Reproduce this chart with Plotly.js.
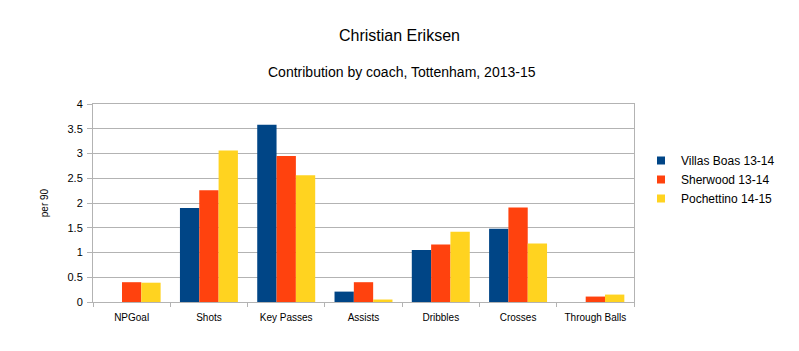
<!DOCTYPE html>
<html>
<head>
<meta charset="utf-8">
<script src="https://cdn.plot.ly/plotly-3.0.1.min.js"></script>
<style>html,body{margin:0;padding:0;background:#fff}#chart{width:799px;height:351px}</style>
</head>
<body>
<div id="chart"></div>
<script>
const categories = ["NPGoal", "Shots", "Key Passes", "Assists", "Dribbles", "Crosses", "Through Balls"];
const seriesNames = ["Villas Boas 13-14", "Sherwood 13-14", "Pochettino 14-15"];
const villasBoas = [0, 1.90, 3.58, 0.21, 1.05, 1.48, 0];
const sherwood = [0.40, 2.26, 2.95, 0.40, 1.16, 1.91, 0.11];
const pochettino = [0.39, 3.06, 2.56, 0.05, 1.42, 1.18, 0.15];
const colors = ["#004586", "#ff420e", "#ffd320"];
const yTickVals = [0, 0.5, 1, 1.5, 2, 2.5, 3, 3.5, 4];
const yTickText = ["0", "0.5", "1", "1.5", "2", "2.5", "3", "3.5", "4"];

const seriesValues = [villasBoas, sherwood, pochettino];
const traces = [];
seriesValues.forEach((vals, i) => {
  traces.push({
    type: "bar", x: categories, y: vals, name: seriesNames[i],
    marker: {color: colors[i]}, showlegend: false, hoverinfo: "x+y"
  });
});
seriesValues.forEach((vals, i) => {
  traces.push({
    type: "scatter", mode: "markers", x: [null], y: [null], name: seriesNames[i],
    marker: {color: colors[i], symbol: "square", size: 8}, showlegend: true
  });
});

const font = "Liberation Sans, Arial, sans-serif";
const layout = {
  width: 799, height: 351,
  margin: {l: 93, r: 165, t: 104, b: 49, pad: 0},
  paper_bgcolor: "#fff", plot_bgcolor: "#fff",
  font: {family: font, color: "#000", size: 10},
  title: {text: "Christian Eriksen", font: {family: font, size: 16, color: "#000"},
          x: 0.5, xref: "container", xanchor: "center", y: 1 - 35/351, yref: "container", yanchor: "middle"},
  annotations: [{
    text: "Contribution by coach, Tottenham, 2013-15", xref: "paper", yref: "paper",
    x: (402 - 93) / 541, y: (302 - 72) / 198, xanchor: "center", yanchor: "middle",
    showarrow: false, font: {family: font, size: 14, color: "#000"}
  }],
  barmode: "group", bargap: 0.25, bargroupgap: 0,
  xaxis: {
    type: "category", showgrid: false, showline: true, linecolor: "#b3b3b3", linewidth: 1,
    mirror: true, ticks: "outside", tickson: "boundaries", ticklen: 4, tickcolor: "#b3b3b3",
    ticklabelstandoff: 6,
    tickfont: {family: font, size: 10, color: "#000"}, zeroline: false, fixedrange: true
  },
  yaxis: {
    range: [0, 4], tickvals: yTickVals, ticktext: yTickText,
    showgrid: true, gridcolor: "#b3b3b3", gridwidth: 1,
    showline: true, linecolor: "#b3b3b3", linewidth: 1, mirror: true,
    ticks: "outside", ticklen: 5, tickcolor: "#b3b3b3", ticklabelstandoff: 2,
    tickfont: {family: font, size: 11, color: "#000"}, zeroline: false,
    title: {text: "per 90", font: {family: font, size: 10, color: "#000"}, standoff: 17}
  },
  legend: {
    x: (641 - 93) / 541, xanchor: "left", y: (302 - 146) / 198, yanchor: "top",
    font: {family: font, size: 12, color: "#000"}, bgcolor: "rgba(0,0,0,0)",
    tracegroupgap: 0, itemwidth: 30
  },
  showlegend: true
};
Plotly.newPlot("chart", traces, layout, {displayModeBar: false, staticPlot: true});
</script>
</body>
</html>
